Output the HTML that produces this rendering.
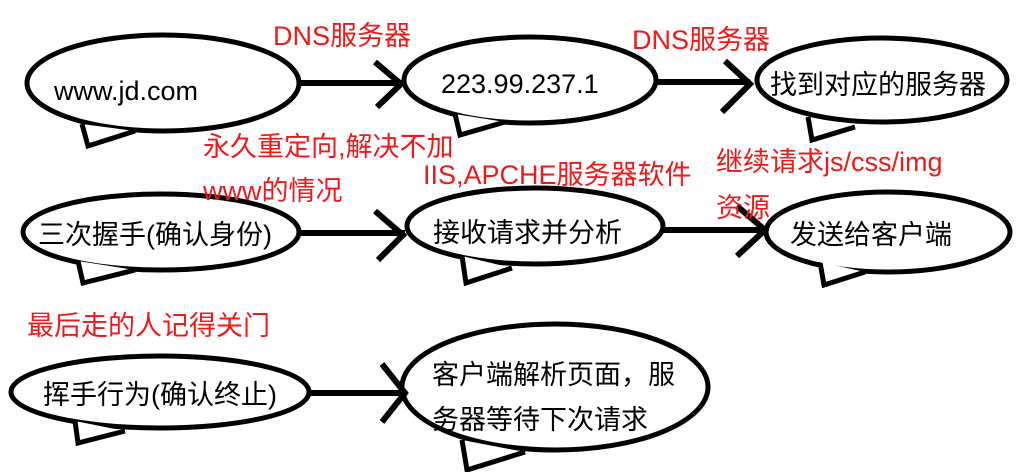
<!DOCTYPE html>
<html><head><meta charset="utf-8"><style>
html,body{margin:0;padding:0;background:#fff;}
svg{display:block}
text{font-family:"Liberation Sans","Noto Sans CJK SC",sans-serif;}
.k{fill:#000;font-size:27px}
.r{fill:#f01818;font-size:27px}
</style></head><body>
<svg width="1018" height="472" viewBox="0 0 1018 472" xmlns="http://www.w3.org/2000/svg">
<g fill="none" stroke="#000" stroke-width="5" stroke-linejoin="miter">
<ellipse cx="163" cy="83" rx="136" ry="48" fill="#fff"/>
<path d="M82,124 L88,146 L135,131" fill="#fff"/>
<ellipse cx="530" cy="80" rx="126" ry="43" fill="#fff"/>
<path d="M455,114 L460,135 L505,122" fill="#fff"/>
<ellipse cx="882" cy="80" rx="125" ry="42" fill="#fff"/>
<path d="M808,117 L812,140 L855,127" fill="#fff"/>
<ellipse cx="161" cy="232" rx="138" ry="38" fill="#fff"/>
<path d="M78,261 L83,283 L135,270" fill="#fff"/>
<ellipse cx="535" cy="226" rx="128" ry="38" fill="#fff"/>
<path d="M462,256 L466,283 L512,268" fill="#fff"/>
<ellipse cx="888" cy="232" rx="122" ry="40" fill="#fff"/>
<path d="M820,262 L824,285 L865,272" fill="#fff"/>
<ellipse cx="160" cy="392" rx="149" ry="36" fill="#fff"/>
<path d="M75,421 L78,443 L125,431" fill="#fff"/>
<ellipse cx="555" cy="387" rx="153" ry="63" fill="#fff"/>
<path d="M462,440 L467,470 L525,452" fill="#fff"/>
</g>
<g fill="#fff">
<ellipse cx="163" cy="83" rx="133" ry="45"/>
<ellipse cx="530" cy="80" rx="123" ry="40"/>
<ellipse cx="882" cy="80" rx="122" ry="39"/>
<ellipse cx="161" cy="232" rx="135" ry="35"/>
<ellipse cx="535" cy="226" rx="125" ry="35"/>
<ellipse cx="888" cy="232" rx="119" ry="37"/>
<ellipse cx="160" cy="392" rx="146" ry="33"/>
<ellipse cx="555" cy="387" rx="150" ry="60"/>
</g>
<g fill="none" stroke="#000" stroke-width="6">
<line x1="300" y1="83" x2="402" y2="83"/>
<path d="M375,62 L401,84 L377,107"/>
<line x1="657" y1="82" x2="750" y2="82"/>
<path d="M725,61 L750,84 L722,112"/>
<line x1="300" y1="233" x2="405" y2="233"/>
<path d="M375,211 L403,235 L378,260"/>
<line x1="663" y1="230" x2="765" y2="230"/>
<path d="M737,206 L765,230 L737,256"/>
<line x1="310" y1="393" x2="404" y2="393"/>
<path d="M382,364 L405,393 L382,422"/>
</g>
<text class="k" x="54" y="100">www.jd.com</text>
<text class="k" x="441" y="93">223.99.237.1</text>
<text class="k" x="770" y="94">找到对应的服务器</text>
<text class="k" x="38" y="244">三次握手(确认身份)</text>
<text class="k" x="433" y="242">接收请求并分析</text>
<text class="k" x="790" y="244">发送给客户端</text>
<text class="k" x="43" y="404">挥手行为(确认终止)</text>
<text class="k" x="432" y="384">客户端解析页面，服</text>
<text class="k" x="432" y="429">务器等待下次请求</text>
<text class="r" x="273" y="45">DNS服务器</text>
<text class="r" x="632" y="49">DNS服务器</text>
<text class="r" x="203" y="156">永久重定向,解决不加</text>
<text class="r" x="203" y="200">www的情况</text>
<text class="r" x="423" y="184">IIS,APCHE服务器软件</text>
<text class="r" x="716" y="171">继续请求js/css/img</text>
<text class="r" x="716" y="217">资源</text>
<text class="r" x="27" y="335">最后走的人记得关门</text>
</svg>
</body></html>
